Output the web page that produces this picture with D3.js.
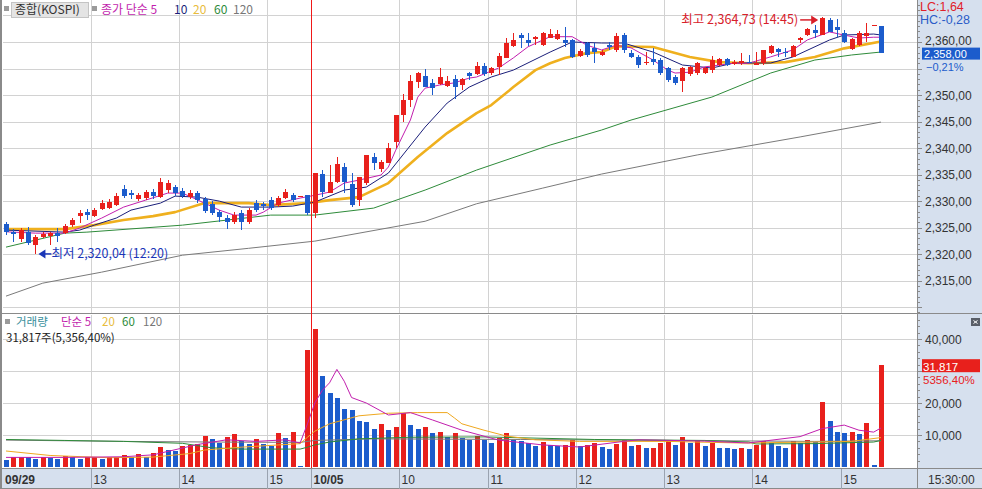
<!DOCTYPE html>
<html>
<head>
<meta charset="utf-8">
<script src="https://cdn.jsdelivr.net/npm/d3@7"></script>
<style>
  body { margin: 0; background: #fff; }
  svg { display: block; font-family: "Liberation Sans", Arial, sans-serif; }
  .kr { font-family: "Noto Sans CJK KR", "Liberation Sans", sans-serif; }
</style>
</head>
<body>
<svg id="chart" width="982" height="489"></svg>
<script>
// 5-minute candles: 09/29 12:00-15:25, 10/05 09:00-15:25
const opens = [
  2325.66, 2324.21, 2322.77, 2324.15, 2321.70, 2323.26, 2323.40, 2323.96, 2323.91, 2325.47,
  2327.17, 2327.98, 2327.17, 2328.49, 2328.62, 2329.25, 2332.27, 2331.51, 2330.38, 2330.57,
  2331.70, 2330.75, 2332.08, 2332.64, 2331.89, 2330.75, 2331.51, 2330.38, 2329.43, 2327.92,
  2326.79, 2326.04, 2327.74, 2326.04, 2329.62, 2329.43, 2330.19, 2329.25, 2330.57, 2331.13,
  2330.94, 2331.13,
  2327.68, 2335.09, 2331.57, 2333.53, 2336.47, 2333.15, 2330.19, 2333.34, 2338.36, 2335.98,
  2337.23, 2341.19, 2346.23, 2349.06, 2352.51, 2353.58, 2352.21, 2352.08, 2351.75, 2352.96,
  2351.89, 2354.09, 2353.91, 2355.47, 2354.21, 2355.34, 2356.92, 2359.25, 2361.32, 2360.38,
  2360.51, 2359.43, 2360.81, 2360.57, 2360.38, 2360.38, 2357.36, 2359.81, 2358.87, 2357.55,
  2359.43, 2358.49, 2361.32, 2357.98, 2357.23, 2355.98, 2356.74, 2356.60, 2355.04, 2353.45,
  2352.70, 2353.96, 2354.09, 2354.09, 2354.72, 2355.66, 2356.74, 2355.85, 2355.98, 2356.28,
  2355.66, 2355.98, 2357.87, 2358.62, 2358.17, 2357.23, 2360.38, 2361.32, 2362.26, 2361.32,
  2364.15, 2362.89, 2361.64, 2358.62, 2359.43, 2361.13, 2363.21, 2363.02
];
const highs = [
  2326.04, 2324.72, 2324.91, 2325.15, 2323.59, 2324.15, 2324.21, 2324.91, 2325.66, 2326.79,
  2328.30, 2328.49, 2328.68, 2330.19, 2330.38, 2331.51, 2333.02, 2332.08, 2331.51, 2332.08,
  2332.27, 2334.34, 2333.96, 2333.02, 2332.45, 2332.08, 2331.89, 2330.75, 2330.00, 2328.30,
  2327.36, 2327.92, 2328.30, 2328.68, 2330.19, 2329.81, 2330.75, 2330.94, 2332.27, 2331.51,
  2330.94, 2331.13,
  2335.23, 2335.85, 2336.79, 2338.25, 2337.23, 2335.23, 2334.59, 2338.68, 2339.11, 2337.74,
  2340.89, 2346.23, 2350.19, 2353.77, 2354.40, 2354.85, 2352.96, 2355.04, 2353.58, 2353.77,
  2353.15, 2354.40, 2356.28, 2356.09, 2355.34, 2357.98, 2360.70, 2361.64, 2361.75, 2361.64,
  2361.13, 2361.94, 2362.40, 2362.26, 2362.77, 2360.51, 2358.62, 2360.00, 2359.81, 2358.49,
  2360.00, 2361.70, 2361.64, 2358.49, 2357.55, 2358.17, 2358.81, 2356.92, 2355.34, 2353.77,
  2355.34, 2355.47, 2356.23, 2355.28, 2357.36, 2356.98, 2356.98, 2356.60, 2357.87, 2357.55,
  2358.17, 2358.49, 2359.43, 2358.81, 2358.81, 2359.43, 2361.00, 2362.64, 2363.21, 2364.73,
  2364.53, 2364.30, 2362.26, 2360.75, 2362.08, 2363.53, 2363.21, 2363.02
];
const lows = [
  2323.59, 2322.32, 2322.32, 2321.70, 2320.04, 2323.02, 2321.70, 2322.32, 2323.77, 2325.09,
  2325.91, 2326.42, 2326.98, 2328.30, 2328.49, 2329.06, 2330.57, 2330.38, 2330.00, 2330.19,
  2330.38, 2330.57, 2331.51, 2330.94, 2330.57, 2330.38, 2329.62, 2327.74, 2327.36, 2326.04,
  2324.72, 2325.66, 2324.53, 2325.66, 2327.92, 2328.30, 2328.30, 2328.87, 2330.38, 2329.81,
  2330.94, 2327.36,
  2326.79, 2330.81, 2331.45, 2333.34, 2331.45, 2328.93, 2329.06, 2333.02, 2335.85, 2335.53,
  2337.11, 2339.94, 2344.96, 2347.79, 2351.26, 2351.57, 2350.00, 2351.89, 2351.57, 2349.25,
  2350.94, 2352.83, 2353.77, 2353.58, 2353.77, 2353.77, 2356.92, 2359.11, 2358.81, 2359.25,
  2359.43, 2359.25, 2360.70, 2360.38, 2359.00, 2356.92, 2357.11, 2357.17, 2356.04, 2357.36,
  2358.49, 2358.17, 2357.87, 2356.98, 2355.04, 2355.66, 2355.66, 2353.77, 2352.51, 2351.89,
  2350.62, 2353.58, 2353.77, 2353.96, 2354.09, 2355.47, 2355.47, 2355.66, 2355.66, 2355.98,
  2355.66, 2355.66, 2357.74, 2357.23, 2357.23, 2357.17, 2359.75, 2361.19, 2360.70, 2361.23,
  2361.89, 2361.00, 2359.81, 2358.49, 2359.25, 2360.06, 2363.21, 2357.87
];
const closes = [
  2324.15, 2323.72, 2324.53, 2322.02, 2323.15, 2323.72, 2323.96, 2323.40, 2325.28, 2326.42,
  2327.74, 2327.36, 2328.30, 2329.62, 2329.87, 2330.94, 2330.94, 2331.13, 2331.13, 2331.70,
  2330.94, 2333.59, 2333.40, 2331.51, 2330.94, 2331.51, 2330.19, 2328.11, 2327.74, 2326.98,
  2326.04, 2327.36, 2326.04, 2328.30, 2328.30, 2329.06, 2328.68, 2330.57, 2331.70, 2330.19,
  2330.94, 2327.74,
  2335.23, 2331.75, 2333.64, 2336.98, 2333.64, 2329.25, 2334.59, 2338.68, 2337.11, 2337.42,
  2340.06, 2346.23, 2349.06, 2352.64, 2354.21, 2351.57, 2351.38, 2353.45, 2352.64, 2351.57,
  2352.96, 2353.64, 2355.47, 2353.91, 2355.04, 2357.36, 2359.87, 2360.38, 2360.70, 2359.75,
  2360.89, 2361.64, 2361.51, 2361.45, 2359.87, 2357.11, 2358.36, 2357.55, 2358.11, 2358.17,
  2359.11, 2361.13, 2358.49, 2357.23, 2355.66, 2356.28, 2356.28, 2354.09, 2352.83, 2352.21,
  2355.15, 2355.34, 2355.98, 2355.04, 2356.60, 2356.74, 2355.66, 2356.28, 2356.47, 2356.09,
  2356.09, 2358.49, 2359.25, 2358.17, 2357.87, 2359.25, 2360.70, 2362.40, 2361.64, 2364.50,
  2361.94, 2362.26, 2360.06, 2360.51, 2361.64, 2361.64, 2363.21, 2358.00
];
const volumes = [
  2200, 3000, 3050, 3000, 2600, 3000, 2950, 2500, 3400, 3000,
  2600, 3000, 3050, 2600, 3000, 3200, 3600, 3000, 4000, 3200,
  4300, 6100, 5300, 5000, 6500, 6900, 7200, 9700, 8600, 7600,
  9300, 10300, 8200, 7100, 8600, 7100, 6500, 10700, 9200, 11000,
  300, 36500,
  43100, 28400, 23000, 21500, 18000, 17800, 14500, 14000, 12000, 13500,
  11500, 12500, 17000, 13000, 11800, 12500, 10500, 11000, 9500, 10500,
  9000, 8500, 9800, 8500, 7500, 9000, 10500, 8500, 8000, 7500,
  6500, 7800, 6800, 6500, 6800, 8500, 6500, 7000, 7500, 6200,
  5500, 7200, 8500, 6500, 7000, 5800, 6000, 7500, 8000, 7000,
  9500, 7500, 8000, 6500, 7500, 6000, 5800, 5500, 6000, 5500,
  7000, 8000, 7500, 6500, 6000, 8000, 7500, 8500, 7800, 20300,
  14500, 11000, 10500, 10800, 10200, 13700, 600, 31817
];

// moving averages: [candle index, value]
const ma5 = [[0,2324.21],[4,2323.96],[8,2323.96],[10,2324.91],[13,2326.79],[16,2328.87],[19,2330.19],
  [22,2331.51],[24,2331.51],[27,2329.62],[29,2328.3],[31,2327.36],[34,2327.36],[35,2327.92],[37,2329.62],
  [40,2330.57],[42,2331.1],[44,2331.7],[46,2333.4],[48,2333.96],[51,2334.91],[52,2336.42],[53,2339.6],
  [55,2345.3],[56,2349.6],[57,2351.3],[59,2351.9],[61,2352.3],[63,2353.2],[64,2353.4],[67,2355.1],
  [69,2357.0],[71,2359.1],[74,2361.0],[77,2361.0],[79,2359.4],[81,2358.5],[83,2359.4],[85,2358.9],
  [88,2356.6],[90,2354.7],[91,2354.15],[93,2354.3],[95,2355.3],[99,2356.0],[101,2356.0],[104,2357.2],
  [107,2358.5],[109,2360.4],[112,2361.9],[114,2361.3],[116,2360.75],[118,2360.9],[119,2360.9]];
const ma10 = [[0,2324.53],[8,2324.15],[10,2324.53],[12,2325.47],[15,2326.8],[17,2328.3],[21,2329.62],
  [23,2330.94],[26,2330.75],[29,2330.0],[32,2328.87],[36,2328.87],[39,2329.06],[42,2329.81],[46,2332.08],
  [49,2332.64],[52,2335.28],[57,2343.96],[60,2348.49],[63,2351.5],[66,2353.4],[69,2354.7],[74,2358.1],
  [77,2360.0],[81,2359.81],[84,2359.81],[88,2358.1],[92,2355.66],[96,2355.09],[99,2356.04],[104,2356.04],
  [107,2357.17],[112,2360.38],[114,2361.32],[118,2361.5],[119,2361.32]];
const ma20 = [[0,2324.72],[8,2324.72],[12,2325.47],[16,2326.42],[20,2327.17],[23,2327.92],[27,2329.62],
  [33,2329.62],[36,2329.25],[41,2329.62],[44,2330.19],[48,2330.75],[52,2333.4],[56,2338.3],[60,2342.83],
  [64,2346.6],[66,2348.1],[69,2351.5],[72,2354.7],[74,2356.0],[76,2356.98],[79,2357.9],[81,2358.1],
  [83,2359.2],[88,2359.06],[93,2357.17],[97,2356.2],[101,2356.0],[106,2356.2],[110,2357.17],[114,2358.8],
  [119,2360.1]];
const ma60 = [[0,2321.32],[8,2323.96],[11,2324.15],[24,2325.47],[36,2327.36],[42,2327.36],[50,2328.68],
  [57,2332.08],[64,2335.85],[74,2340.57],[81,2343.4],[85,2345.28],[96,2349.62],[104,2354.15],[110,2356.6],
  [115,2357.55],[119,2358.11]];
const ma120 = [[0,2312.08],[5,2314.53],[13,2316.6],[24,2319.8],[33,2321.1],[42,2322.45],[57,2326.2],
  [64,2329.5],[73,2332.45],[81,2335.1],[94,2338.7],[108,2342.1],[119,2344.9]];

const vma5 = [[0,3000],[8,3000],[16,3200],[20,3800],[26,7000],[30,8500],[34,8000],[38,8500],[40,7500],
  [41,13500],[42,20000],[43,23900],[44,26300],[45,30500],[46,26800],[47,21700],[49,20000],[52,16250],
  [55,17000],[58,14700],[62,11500],[67,8400],[73,6900],[78,6250],[84,8000],[86,8500],[95,8100],
  [101,7500],[108,9500],[111,12000],[114,13100],[116,11500],[118,10900],[119,12200]];
const vma20 = [[0,5000],[6,3600],[14,2900],[20,3100],[25,4200],[27,5300],[32,6200],[40,7300],[41,9300],
  [42,11200],[44,13500],[48,16000],[52,16800],[56,17000],[60,17000],[61,15300],[62,13500],[65,11500],
  [68,9700],[72,8500],[78,8000],[90,8000],[100,7500],[110,7800],[115,8000],[119,9200]];
const vma60 = [[0,8600],[8,8300],[16,8000],[24,7400],[28,6000],[32,5600],[40,5600],[41,6200],[42,6900],
  [44,7800],[48,8800],[55,9300],[65,9400],[80,8600],[95,8300],[101,7800],[102,7200],[110,7300],
  [118,7800],[119,8300]];
const vma120 = [[0,8400],[16,8000],[28,7800],[40,7700],[42,8300],[50,8800],[70,8600],[90,8300],
  [110,8000],[119,8200]];

const tickIndex = [0, 12, 24, 36, 42, 54, 66, 78, 90, 102, 114];
const tickLabels = ['09/29', '13', '14', '15', '10/05', '10', '11', '12', '13', '14', '15'];
const dayStarts = [0, 42];
const priceTicks = [2310, 2315, 2320, 2325, 2330, 2335, 2340, 2345, 2350, 2355, 2360, 2365];
const volTicks = [10000, 20000, 30000, 40000];

const lastPrice = 2358.00, lastChange = -0.21;
const lastVol = 31817, volRatio = 5356.40;
const lowVal = 2320.04, lowIdx = 4, lowTime = '12:20';
const highVal = 2364.73, highIdx = 111, highTime = '14:45';

// layout
const plotL = 3, plotR = 917;
const priceTop = 0, priceBot = 313;
const volTop = 315, volBot = 467;
const axisTop = 469, H = 489, W = 982;

const RED = '#e8201c', BLUE = '#1c5ccc';
const GRID = '#d2d2d2';
const AXISBG = '#d6e0ee';

const loc = d3.formatLocale({decimal: ',', thousands: ',', grouping: [3], currency: ['', '']});
const fPrice = loc.format(',.2f');
const fVol = loc.format(',d');

const svg = d3.select('#chart');

const x = d3.scaleLinear().domain([0, closes.length - 1]).range([6, 881]);
const yP = d3.scaleLinear().domain([2308.9, 2367.92]).range([priceBot, priceTop]);
const yV = d3.scaleLinear().domain([0, 47500]).range([volBot, volTop]);

// backgrounds
svg.append('rect').attr('width', W).attr('height', H).attr('fill', '#fff');
svg.append('rect').attr('x', plotR).attr('y', 0).attr('width', W - plotR).attr('height', H).attr('fill', AXISBG);
svg.append('rect').attr('x', 0).attr('y', axisTop).attr('width', W).attr('height', H - axisTop).attr('fill', AXISBG);

svg.append('defs').call(d => {
  d.append('clipPath').attr('id', 'clipP').append('rect')
    .attr('x', plotL).attr('y', priceTop).attr('width', plotR - plotL).attr('height', priceBot - priceTop);
  d.append('clipPath').attr('id', 'clipV').append('rect')
    .attr('x', plotL).attr('y', volTop).attr('width', plotR - plotL).attr('height', volBot - volTop);
});

const grid = svg.append('g').attr('shape-rendering', 'crispEdges');
grid.selectAll('.hp').data(priceTicks).join('line')
  .attr('x1', plotL).attr('x2', plotR)
  .attr('y1', d => Math.round(yP(d)) + 0.5).attr('y2', d => Math.round(yP(d)) + 0.5)
  .attr('stroke', GRID);
grid.selectAll('.hv').data(volTicks).join('line')
  .attr('x1', plotL).attr('x2', plotR)
  .attr('y1', d => Math.round(yV(d)) + 0.5).attr('y2', d => Math.round(yV(d)) + 0.5)
  .attr('stroke', GRID);

const tx = i => Math.round(x(i - 0.5)) + 0.5;
const vTicks = tickIndex.filter(i => !dayStarts.includes(i));
[[priceTop, priceBot], [volTop, volBot]].forEach(([a, b]) => {
  grid.append('g').selectAll('line').data(vTicks).join('line')
    .attr('x1', tx).attr('x2', tx).attr('y1', a).attr('y2', b)
    .attr('stroke', GRID);
});

// moving averages (price)
const lineP = d3.line().x(d => x(d[0])).y(d => yP(d[1]));
const gP = svg.append('g').attr('clip-path', 'url(#clipP)');
[[ma120, '#7a7a7a', 1], [ma60, '#2e8b3a', 1], [ma20, '#efb01e', 2.6], [ma10, '#1b1f7a', 1], [ma5, '#c21fae', 1]]
  .forEach(([d, c, w]) => gP.append('path').attr('d', lineP(d)).attr('fill', 'none')
    .attr('stroke', c).attr('stroke-width', w).attr('stroke-linejoin', 'round'));

// candles
const idx = d3.range(closes.length);
const cColor = i => closes[i] >= opens[i] ? RED : BLUE;
const candles = gP.append('g').attr('shape-rendering', 'crispEdges');
candles.selectAll('line').data(idx).join('line')
  .attr('x1', i => Math.round(x(i)) + 0.5).attr('x2', i => Math.round(x(i)) + 0.5)
  .attr('y1', i => yP(highs[i])).attr('y2', i => yP(lows[i]))
  .attr('stroke', cColor);
candles.selectAll('rect').data(idx).join('rect')
  .attr('x', i => Math.round(x(i)) - 2)
  .attr('width', 5)
  .attr('y', i => yP(Math.max(opens[i], closes[i])))
  .attr('height', i => Math.max(1, Math.abs(yP(opens[i]) - yP(closes[i]))))
  .attr('fill', cColor);

// volume
const gV = svg.append('g').attr('clip-path', 'url(#clipV)');
const vColor = i => (i > 0 && volumes[i] >= volumes[i - 1]) ? RED : BLUE;
gV.append('g').attr('shape-rendering', 'crispEdges')
  .selectAll('rect').data(idx).join('rect')
  .attr('x', i => Math.round(x(i)) - 2)
  .attr('width', 5)
  .attr('y', i => yV(volumes[i]))
  .attr('height', i => volBot - yV(volumes[i]))
  .attr('fill', vColor);
const lineV = d3.line().x(d => x(d[0])).y(d => yV(d[1]));
[[vma120, '#7a7a7a'], [vma60, '#2e8b3a'], [vma20, '#efa820'], [vma5, '#c21fae']]
  .forEach(([d, c]) => gV.append('path').attr('d', lineV(d)).attr('fill', 'none')
    .attr('stroke', c).attr('stroke-width', 1));

// frame lines
const frame = svg.append('g').attr('shape-rendering', 'crispEdges');
frame.append('line').attr('x1', 0).attr('x2', W).attr('y1', 313.5).attr('y2', 313.5).attr('stroke', '#8a8a8a');
frame.append('line').attr('x1', 0).attr('x2', W).attr('y1', 468.5).attr('y2', 468.5).attr('stroke', '#8a8a8a');
frame.append('line').attr('x1', plotR + 0.5).attr('x2', plotR + 0.5).attr('y1', 0).attr('y2', H).attr('stroke', '#8a8a8a');
frame.append('line').attr('x1', 0).attr('x2', W).attr('y1', H - 0.5).attr('y2', H - 0.5).attr('stroke', '#8a8a8a');
frame.append('rect').attr('x', 0).attr('y', 0).attr('width', 2).attr('height', H).attr('fill', '#8a8a8a');
// day separator (red)
frame.append('rect').attr('x', Math.floor(tx(42))).attr('y', 0).attr('width', 1).attr('height', 468)
  .attr('fill', '#f01818');

// time axis
const xa = svg.append('g');
xa.selectAll('line').data(tickIndex.slice(1)).join('line')
  .attr('x1', tx).attr('x2', tx).attr('y1', axisTop).attr('y2', H)
  .attr('stroke', '#9aa3b0').attr('shape-rendering', 'crispEdges');
xa.selectAll('text').data(tickIndex).join('text')
  .attr('x', (d, k) => k === 0 ? 5 : tx(d) + 2)
  .attr('y', 484)
  .attr('font-size', 12)
  .attr('font-weight', d => dayStarts.includes(d) ? 'bold' : 'normal')
  .attr('fill', '#333')
  .text((d, k) => tickLabels[k]);
xa.append('text').attr('x', 928).attr('y', 484).attr('font-size', 12).attr('fill', '#333').text('15:30:00');

// right price axis
const ra = svg.append('g').attr('shape-rendering', 'crispEdges');
ra.selectAll('.mn').data(d3.range(2309, 2368, 1)).join('line')
  .attr('x1', plotR).attr('x2', d => plotR + (d % 5 === 0 ? 5 : 3))
  .attr('y1', d => Math.round(yP(d)) + 0.5).attr('y2', d => Math.round(yP(d)) + 0.5)
  .attr('stroke', '#8a8a8a');
ra.selectAll('.vm').data(d3.range(2000, 46001, 2000)).join('line')
  .attr('x1', plotR).attr('x2', d => plotR + (d % 10000 === 0 ? 5 : 3))
  .attr('y1', d => Math.round(yV(d)) + 0.5).attr('y2', d => Math.round(yV(d)) + 0.5)
  .attr('stroke', '#8a8a8a');

// info boxes sit on top of the axis labels they fully cover; those labels are left out
const pY = yP(lastPrice), vY = yV(lastVol);
const priceLabelTicks = priceTicks.filter(d => d > 2310 && yP(d) > 30 && Math.abs(yP(d) - (pY + 6)) > 12);
const volLabelTicks = volTicks.filter(d => Math.abs(yV(d) - vY) > 16);
svg.append('g').selectAll('text').data(priceLabelTicks).join('text')
  .attr('x', 925).attr('y', d => yP(d) + (d === 2360 ? 3 : 4.5)).attr('font-size', 12).attr('fill', '#333')
  .text(fPrice);
svg.append('g').selectAll('text').data(volLabelTicks).join('text')
  .attr('x', 925).attr('y', d => yV(d) + 4.5).attr('font-size', 12).attr('fill', '#333')
  .text(fVol);

// right side info boxes
svg.append('text').attr('x', 920).attr('y', 11).attr('font-size', 12.5).attr('fill', '#e0202a').text('LC:1,64');
svg.append('text').attr('x', 920).attr('y', 23.5).attr('font-size', 12.5).attr('fill', '#2a5cc8').text('HC:-0,28');
svg.append('rect').attr('x', 922).attr('y', pY - 5).attr('width', 58).attr('height', 12).attr('fill', BLUE);
svg.append('text').attr('x', 924).attr('y', pY + 5.5).attr('font-size', 11).attr('fill', '#fff').text(fPrice(lastPrice));
svg.append('text').attr('x', 926).attr('y', pY + 18).attr('font-size', 11).attr('fill', BLUE)
  .text(loc.format('.2f')(lastChange) + '%');

svg.append('rect').attr('x', 922).attr('y', vY - 6).attr('width', 58).attr('height', 13).attr('fill', RED);
svg.append('text').attr('x', 923).attr('y', vY + 5.5).attr('font-size', 11.5).attr('fill', '#fff').text(fVol(lastVol));
svg.append('text').attr('x', 923).attr('y', vY + 18.5).attr('font-size', 11.5).attr('fill', RED)
  .text(loc.format('.2f')(volRatio) + '%');

// close button on volume panel
svg.append('rect').attr('x', 971).attr('y', 318).attr('width', 9).attr('height', 8).attr('fill', '#5a5f68');
svg.append('path').attr('d', 'M973.5,320.5 l4,3 M977.5,320.5 l-4,3').attr('stroke', '#fff').attr('stroke-width', 1);

// legends
const lg = svg.append('g').attr('class', 'kr').attr('font-size', 12);
lg.append('rect').attr('x', 4).attr('y', 6).attr('width', 5).attr('height', 5).attr('fill', '#9a9a9a');
lg.append('rect').attr('x', 11.5).attr('y', 2.5).attr('width', 77).attr('height', 15)
  .attr('fill', '#e4e4e4').attr('stroke', '#c4c4c4');
lg.append('text').attr('x', 15).attr('y', 14).attr('fill', '#333').text('종합(KOSPI)');
lg.append('rect').attr('x', 92).attr('y', 6).attr('width', 5).attr('height', 5).attr('fill', '#9a9a9a');
[['종가 단순 5', 101, '#c21fae'], ['10', 174, '#1b1f7a'], ['20', 193, '#e8bc3c'], ['60', 214, '#2e8b3a'], ['120', 233, '#777']]
  .forEach(([t, xx, c]) => lg.append('text').attr('x', xx).attr('y', 14).attr('fill', c).text(t));

lg.append('rect').attr('x', 5).attr('y', 319).attr('width', 5).attr('height', 5).attr('fill', '#9a9a9a');
[['거래량', 16, '#3a8f9c'], ['단순 5', 61, '#c21fae'], ['20', 102, '#e8bc3c'], ['60', 122, '#2e8b3a'], ['120', 143, '#777']]
  .forEach(([t, xx, c]) => lg.append('text').attr('x', xx).attr('y', 325.5).attr('font-size', 11.5).attr('fill', c).text(t));
lg.append('text').attr('x', 6).attr('y', 342).attr('font-size', 11.5).attr('fill', '#222')
  .text(fVol(lastVol) + '주(' + loc.format(',.2f')(volRatio) + '%)');

// high / low annotations
const ann = svg.append('g').attr('class', 'kr').attr('font-size', 12.5);
const lx = x(lowIdx) + 3, ly = yP(lowVal);
ann.append('path').attr('d', `M${lx},${ly} l7,-4.5 v9 z`).attr('fill', '#1a36b8');
ann.append('line').attr('x1', lx + 6).attr('x2', lx + 13).attr('y1', ly).attr('y2', ly)
  .attr('stroke', '#1a36b8').attr('stroke-width', 1.5);
ann.append('text').attr('x', lx + 13).attr('y', ly + 4.5).attr('fill', '#1a36b8')
  .text('최저 ' + fPrice(lowVal) + ' (' + lowTime + ')');

const hx = x(highIdx) - 4, hy = yP(highVal) + 3;
ann.append('path').attr('d', `M${hx},${hy} l-7,-4.5 v9 z`).attr('fill', '#d8202a');
ann.append('line').attr('x1', hx - 18).attr('x2', hx - 6).attr('y1', hy).attr('y2', hy)
  .attr('stroke', '#d8202a').attr('stroke-width', 1.5);
ann.append('text').attr('x', hx - 20).attr('y', hy + 4.5).attr('fill', '#d8202a').attr('text-anchor', 'end')
  .text('최고 ' + fPrice(highVal) + ' (' + highTime + ')');
</script>
</body>
</html>
